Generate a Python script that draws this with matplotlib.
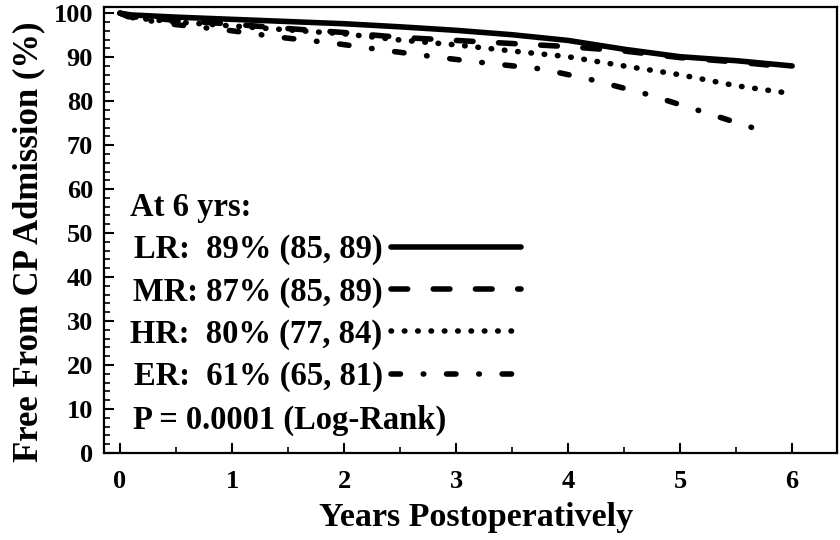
import matplotlib.pyplot as plt
from matplotlib.ticker import MultipleLocator

plt.rcParams['font.family'] = ['Liberation Serif', 'DejaVu Serif']
plt.rcParams['font.weight'] = 'bold'

# Freedom from CP admission (%) by risk group, read at these years
years_lr = [0, 0.1, 0.5, 1, 1.5, 2, 2.5, 3, 3.5, 4, 4.5, 5, 5.5, 6]
free_lr = [100, 99.6, 99.1, 98.6, 98.1, 97.6, 96.9, 96.1, 95.1, 93.8, 91.8, 90.1, 89.2, 88.0]

years_mr = [0, 0.1, 0.5, 1, 1.5, 2, 2.5, 3, 3.5, 4, 4.5, 5, 5.5, 6]
free_mr = [100, 99.2, 98.4, 97.5, 96.5, 95.6, 94.5, 93.8, 93.1, 92.4, 91.4, 89.9, 88.9, 87.7]

years_hr = [0, 0.1, 0.5, 1, 1.5, 2, 2.5, 3, 3.5, 4, 4.5, 5, 5.5, 6]
free_hr = [100, 99.0, 98.0, 97.1, 96.2, 95.3, 93.9, 92.8, 91.4, 90.1, 88.0, 86.0, 83.5, 81.7]

years_er = [0, 0.1, 0.5, 1, 1.43, 1.9, 2.35, 2.83, 3.29, 3.77, 4.22, 4.7, 5.15, 5.63, 5.72]
free_er = [100, 98.9, 97.4, 96.0, 94.5, 93.2, 91.6, 90.0, 88.6, 87.3, 84.8, 81.6, 78.0, 74.1, 73.3]

labels = ['LR:  89% (85, 89)', 'MR: 87% (85, 89)', 'HR:  80% (77, 84)', 'ER:  61% (65, 81)']
legend_title = 'At 6 yrs:'
p_text = 'P = 0.0001 (Log-Rank)'

fig = plt.figure(figsize=(8.4, 5.4), dpi=100)
ax = fig.add_axes([0.1238, 0.1611, 0.8726, 0.8259])

lw = 4
ax.plot(years_lr, free_lr, color='black', lw=lw, solid_capstyle='round', label=labels[0])
ax.plot(years_mr, free_mr, color='black', lw=lw, dashes=(3, 4.6), dash_capstyle='round',
        label=labels[1])
ax.plot(years_hr, free_hr, color='black', lw=lw, dashes=(0.1, 2.3), dash_capstyle='round',
        label=labels[2])
ax.plot(years_er, free_er, color='black', lw=lw, dashes=(1.7, 4.1, 0.1, 4.1),
        dash_capstyle='round', label=labels[3])

ax.set_xlim(-0.143, 6.4)
ax.set_ylim(0, 101.4)
ax.xaxis.set_major_locator(MultipleLocator(1))
ax.xaxis.set_minor_locator(MultipleLocator(0.5))
ax.yaxis.set_major_locator(MultipleLocator(10))
ax.yaxis.set_minor_locator(MultipleLocator(2))
ax.tick_params(which='major', direction='in', length=7, width=1.5, labelsize=19, pad=8)
ax.tick_params(which='minor', direction='in', length=4, width=1.2)
ax.tick_params(axis='x', which='major', pad=12)
for s in ax.spines.values():
    s.set_linewidth(1.6)

ax.set_xlabel('Years Postoperatively', fontsize=24.5, fontweight='bold', labelpad=7, x=0.508)
ax.set_ylabel('Free From CP Admission (%)', fontsize=25, fontweight='bold', labelpad=6, y=0.473)

leg = ax.legend(title=legend_title, loc='upper left', bbox_to_anchor=(0.036, 0.585),
                frameon=False, markerfirst=False, alignment='left', borderpad=0,
                borderaxespad=0, fontsize=23.5, title_fontsize=23.5, handlelength=4.0,
                handletextpad=0.25, labelspacing=0.34)
leg.get_title().set_fontweight('bold')

ax.text(0.0396, 0.074, p_text, transform=ax.transAxes, fontsize=23.5, fontweight='bold',
        ha='left', va='center')

fig.savefig('out.png', dpi=100)
